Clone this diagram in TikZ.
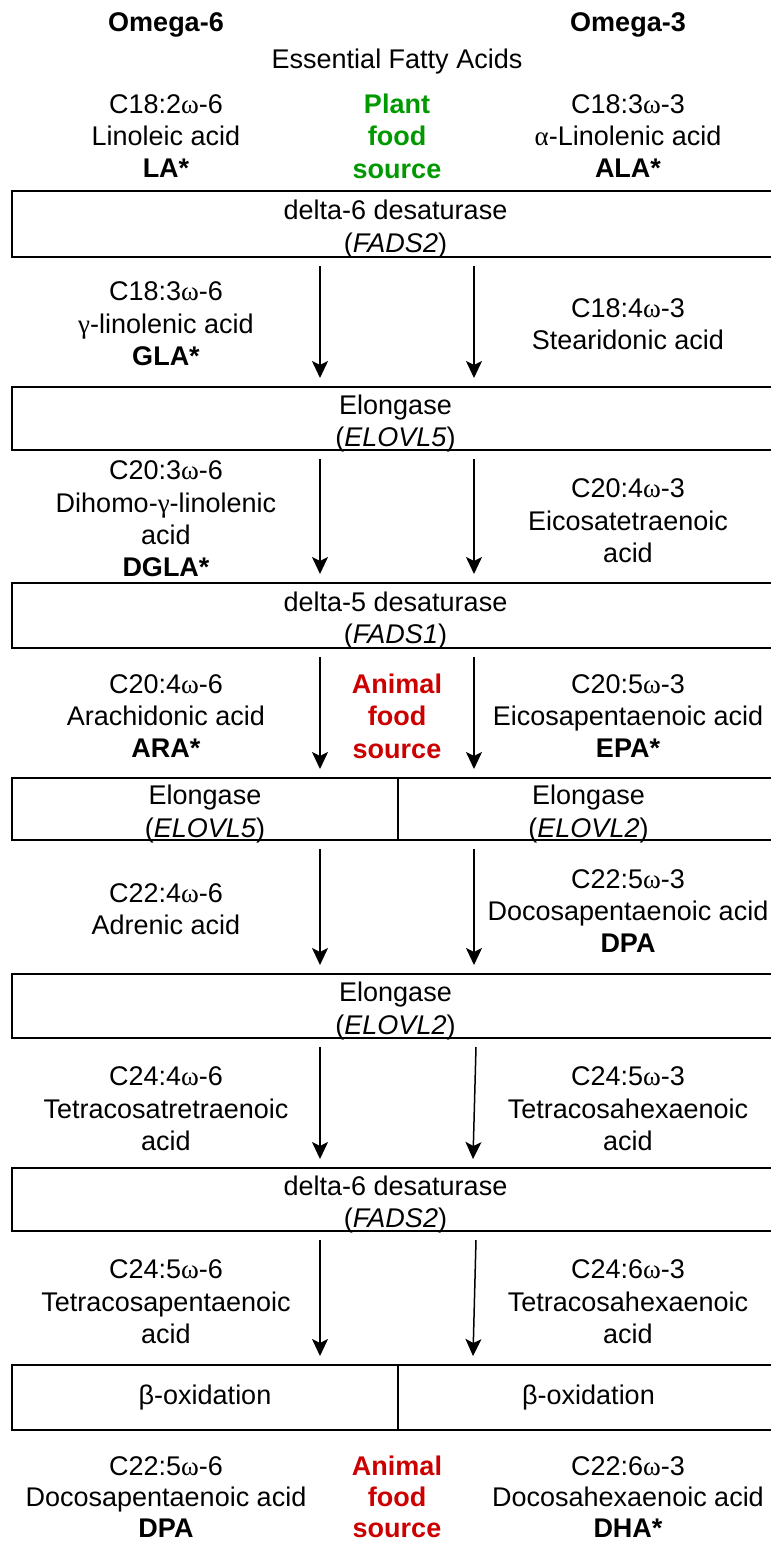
\documentclass[tikz,border=0pt]{standalone}
\usepackage{fontspec}
\setmainfont{Liberation Sans}
\newfontfamily\grkfont{Liberation Serif}
\usetikzlibrary{arrows.meta}
\definecolor{plantgreen}{HTML}{009900}
\definecolor{animalred}{HTML}{CC0000}
\newcommand{\omg}{{\grkfont ω}}
\newcommand{\alp}{{\grkfont α}}
\newcommand{\gam}{{\grkfont γ}}
\begin{document}
\begin{tikzpicture}[x=0.5pt,y=-0.5pt,
  txt/.style={align=center,inner sep=0pt,font=\fontsize{13.5pt}{16.2pt}\selectfont},
  hdr/.style={align=center,inner sep=0pt,font=\fontsize{13.5pt}{16.2pt}\selectfont\bfseries},
  plant/.style={hdr,text=plantgreen},
  animal/.style={hdr,text=animalred},
  tight/.style={font=\fontsize{13.5pt}{15.5pt}\selectfont},
  tightb/.style={font=\fontsize{13.5pt}{15.5pt}\selectfont\bfseries},
  boxtxt/.style={txt,yshift=-2.5pt},
  box/.style={draw,line width=1pt,inner sep=0pt,minimum width=383.5pt},
  lbox/.style={box,minimum width=193pt},
  rbox/.style={box,minimum width=190.5pt},
  arr/.style={line width=0.75pt,-{Stealth[width=8pt,length=8.5pt,inset=2pt]}}]
\useasboundingbox (0,0) rectangle (771,1544);
\coordinate (lx) at (320,0);
\coordinate (rx) at (474,0);
% headers
\node[hdr] (om6) at (166,25) {Omega-6};
\node[hdr] (om3) at (628,25) {Omega-3};
\node[txt] (efa) at (397,62) {Essential Fatty Acids};
% row 1
\node[txt] (la) at (166,136) {C18:2\omg-6\\Linoleic acid\\\textbf{LA*}};
\node[plant] (plant) at (397,136) {Plant\\food\\source};
\node[txt] (ala) at (628,136) {C18:3\omg-3\\\alp-Linolenic acid\\\textbf{ALA*}};
% boxes
\node[box,minimum height=33pt,label={[boxtxt]center:{delta-6 desaturase\\(\textit{FADS2})}}] (b1) at (395.5,224) {};
\node[box,minimum height=31.5pt,label={[boxtxt]center:{Elongase\\(\textit{ELOVL5})}}] (b2) at (395.5,418.5) {};
\node[box,minimum height=32.5pt,label={[boxtxt]center:{delta-5 desaturase\\(\textit{FADS1})}}] (b3) at (395.5,615.5) {};
\node[lbox,minimum height=31pt,label={[boxtxt]center:{Elongase\\(\textit{ELOVL5})}}] (b4l) at (205,809) {};
\node[rbox,minimum height=31pt,label={[boxtxt]center:{Elongase\\(\textit{ELOVL2})}}] (b4r) at (588.5,809) {};
\node[box,minimum height=32pt,label={[boxtxt]center:{Elongase\\(\textit{ELOVL2})}}] (b5) at (395.5,1006) {};
\node[box,minimum height=31.5pt,label={[boxtxt]center:{delta-6 desaturase\\(\textit{FADS2})}}] (b6) at (395.5,1199.5) {};
\node[lbox,minimum height=32.5pt,label={[txt]center:{β-oxidation}}] (b7l) at (205,1397.5) {};
\node[rbox,minimum height=32.5pt,label={[txt]center:{β-oxidation}}] (b7r) at (588.5,1397.5) {};
% intermediate texts
\node[txt] (gla) at (166,324) {C18:3\omg-6\\\gam-linolenic acid\\\textbf{GLA*}};
\node[txt] (sda) at (628,324) {C18:4\omg-3\\Stearidonic acid};
\node[txt] (dgla) at (166,519) {C20:3\omg-6\\Dihomo-\gam-linolenic\\acid\\\textbf{DGLA*}};
\node[txt] (eta) at (628,521) {C20:4\omg-3\\Eicosatetraenoic\\acid};
\node[txt] (ara) at (166,716) {C20:4\omg-6\\Arachidonic acid\\\textbf{ARA*}};
\node[animal] (anim1) at (397,716) {Animal\\food\\source};
\node[txt] (epa) at (628,716) {C20:5\omg-3\\Eicosapentaenoic acid\\\textbf{EPA*}};
\node[txt] (adr) at (166,909) {C22:4\omg-6\\Adrenic acid};
\node[txt] (dpa3) at (628,911) {C22:5\omg-3\\Docosapentaenoic acid\\\textbf{DPA}};
\node[txt] (tta) at (166,1109) {C24:4\omg-6\\Tetracosatretraenoic\\acid};
\node[txt] (tha1) at (628,1109) {C24:5\omg-3\\Tetracosahexaenoic\\acid};
\node[txt] (tpa) at (166,1302) {C24:5\omg-6\\Tetracosapentaenoic\\acid};
\node[txt] (tha2) at (628,1302) {C24:6\omg-3\\Tetracosahexaenoic\\acid};
\node[txt,tight] (dpa6) at (166,1497) {C22:5\omg-6\\Docosapentaenoic acid\\\textbf{DPA}};
\node[animal,tightb] (anim2) at (397,1497) {Animal\\food\\source};
\node[txt,tight] (dha) at (628,1497) {C22:6\omg-3\\Docosahexaenoic acid\\\textbf{DHA*}};
% arrows
\draw[arr] ([yshift=-4pt]b1.south -| lx) -- ([yshift=4pt]b2.north -| lx);
\draw[arr] ([yshift=-4pt]b1.south -| rx) -- ([yshift=4pt]b2.north -| rx);
\draw[arr] ([yshift=-4pt]b2.south -| lx) -- ([yshift=4pt]b3.north -| lx);
\draw[arr] ([yshift=-4pt]b2.south -| rx) -- ([yshift=4pt]b3.north -| rx);
\draw[arr] ([yshift=-4pt]b3.south -| lx) -- ([yshift=4pt]b4l.north -| lx);
\draw[arr] ([yshift=-4pt]b3.south -| rx) -- ([yshift=4pt]b4r.north -| rx);
\draw[arr] ([yshift=-4pt]b4l.south -| lx) -- ([yshift=4pt]b5.north -| lx);
\draw[arr] ([yshift=-4pt]b4r.south -| rx) -- ([yshift=4pt]b5.north -| rx);
\draw[arr] ([yshift=-4pt]b5.south -| lx) -- ([yshift=4pt]b6.north -| lx);
\draw[arr] ([yshift=-4pt,xshift=1pt]b5.south -| rx) -- ([yshift=4pt,xshift=-0.5pt]b6.north -| rx);
\draw[arr] ([yshift=-4pt]b6.south -| lx) -- ([yshift=4pt]b7l.north -| lx);
\draw[arr] ([yshift=-4pt,xshift=1pt]b6.south -| rx) -- ([yshift=4pt,xshift=-0.5pt]b7r.north -| rx);
\end{tikzpicture}
\end{document}
